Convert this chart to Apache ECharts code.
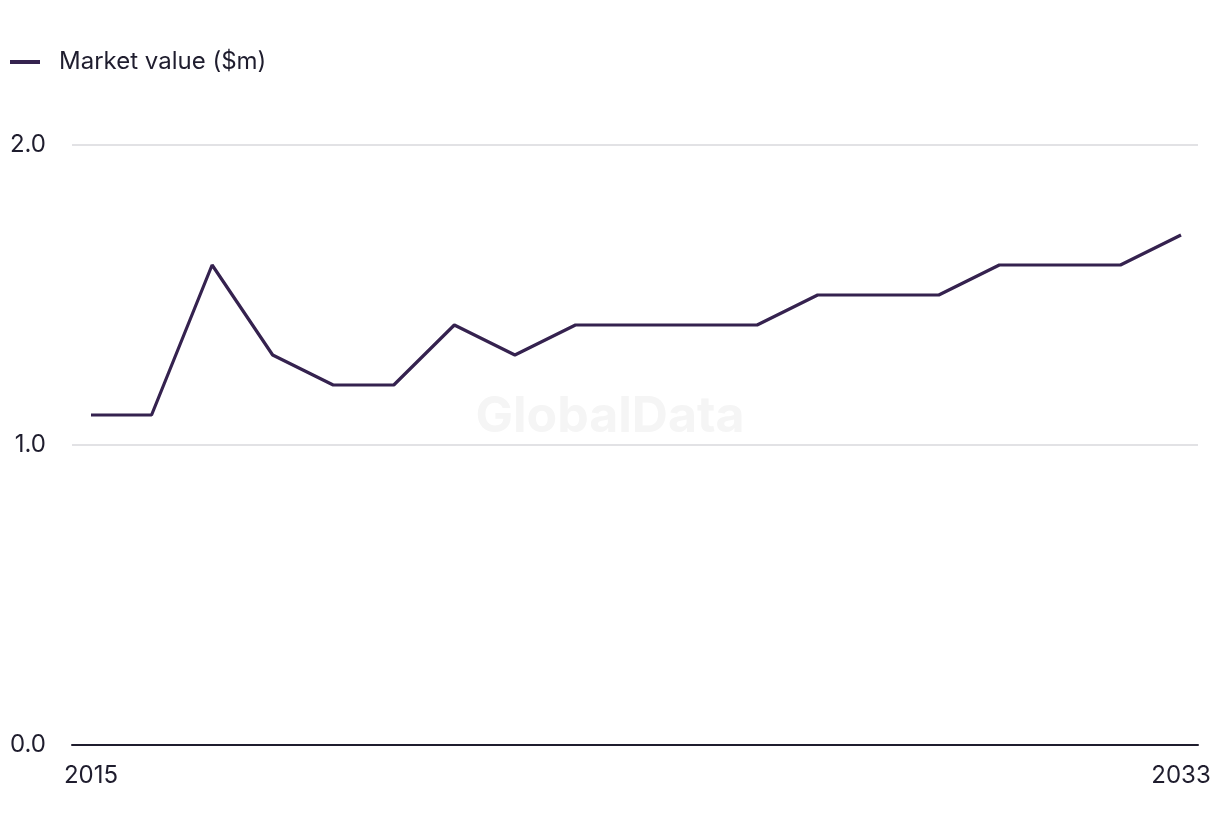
<!DOCTYPE html>
<html>
<head>
<meta charset="utf-8">
<script src="https://cdn.jsdelivr.net/npm/echarts@6/dist/echarts.min.js"></script>
<style>html,body{margin:0;padding:0;background:#fff}#c{width:1220px;height:836px}</style>
</head>
<body>
<div id="c"></div>
<script>
const years = [2015,2016,2017,2018,2019,2020,2021,2022,2023,2024,2025,2026,2027,2028,2029,2030,2031,2032,2033];
const marketValue = [1.1,1.1,1.6,1.3,1.2,1.2,1.4,1.3,1.4,1.4,1.4,1.4,1.5,1.5,1.5,1.6,1.6,1.6,1.7];
const xTickLabels = [2015, 2033];
const seriesName = 'Market value ($m)';

const font = 'Inter, "Noto Sans", sans-serif';
const textColor = '#1f1d2e';
const lineColor = '#35224f';

const chart = echarts.init(document.getElementById('c'), null, {renderer: 'canvas'});
chart.setOption({
  animation: false,
  backgroundColor: '#fff',
  textStyle: {fontFamily: font},
  graphic: [{
    type: 'text', left: 'center', top: 392, z: 0,
    style: {text: 'GlobalData', font: 'bold 50px ' + font, fill: '#f5f5f5'}
  }],
  legend: {
    left: 10, top: 50, padding: 0,
    itemWidth: 30, itemHeight: 4, itemGap: 20,
    icon: 'rect',
    textStyle: {fontSize: 24, color: textColor, fontFamily: font, padding: [0,0,0,14]},
    data: [seriesName]
  },
  grid: {left: 72, right: 22, top: 145, bottom: 91, containLabel: false},
  xAxis: {
    type: 'value',
    min: 2015 - 19/60.55,
    max: 2033 + 17/60.55,
    splitLine: {show: false},
    axisTick: {show: false},
    axisLine: {show: true, lineStyle: {color: textColor, width: 2}},
    axisLabel: {
      customValues: xTickLabels,
      formatter: v => String(v),
      color: textColor, fontSize: 24, fontFamily: font, margin: 19
    }
  },
  yAxis: {
    type: 'value',
    min: 0, max: 2, interval: 1,
    axisLine: {show: false},
    axisTick: {show: false},
    splitLine: {lineStyle: {color: '#d8d8dc', width: 1.5}},
    axisLabel: {
      formatter: v => v.toFixed(1),
      color: textColor, fontSize: 24, fontFamily: font, margin: 26
    }
  },
  series: [{
    name: seriesName,
    type: 'line',
    data: years.map((y, i) => [y, marketValue[i]]),
    showSymbol: false,
    symbol: 'none',
    lineStyle: {color: lineColor, width: 3.2},
    itemStyle: {color: lineColor},
    z: 5
  }]
});
</script>
</body>
</html>
